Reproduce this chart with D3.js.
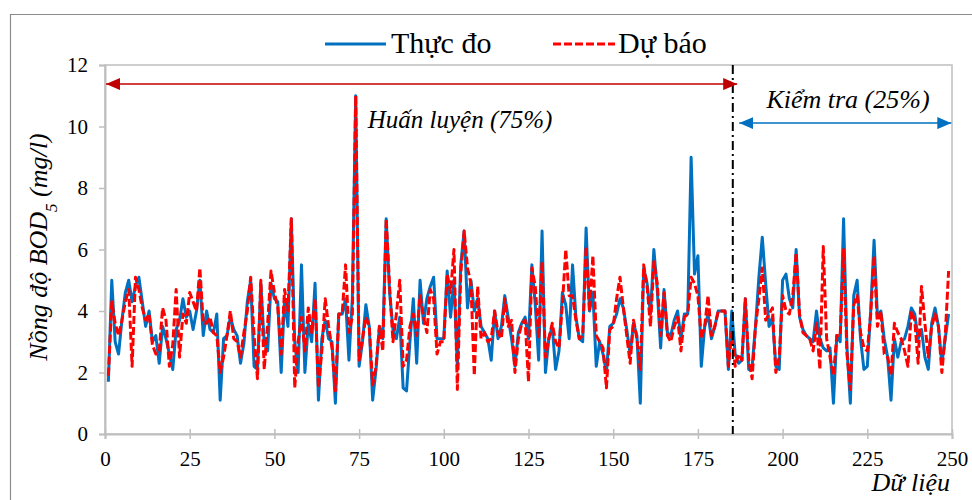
<!DOCTYPE html>
<meta charset="utf-8">
<script src="https://cdn.jsdelivr.net/npm/d3@7"></script>
<style>
  body { margin: 0; background: #fff; }
</style>
<div id="chart"></div>
<script>

// measured values (Thực đo) and model output (Dự báo), sample 1..249
var thucDo = [1.7,5.0,3.0,2.6,3.7,4.6,5.0,4.3,4.8,5.1,4.3,3.5,4.0,3.0,3.2,2.3,3.5,3.1,2.6,2.1,
  3.4,3.7,4.4,3.8,4.0,3.4,4.0,5.0,3.2,4.0,3.4,3.3,3.9,1.1,3.1,3.2,3.8,3.4,3.2,2.3,
  2.95,4.3,5.0,2.2,2.1,4.9,2.95,2.7,4.9,4.4,4.3,2.0,4.4,3.5,7.0,3.0,2.0,5.5,2.0,3.6,
  3.0,4.9,1.1,3.1,3.7,3.1,3.0,1.0,3.9,3.9,4.4,2.4,4.4,11.0,2.2,3.0,4.2,3.5,1.1,2.1,
  3.5,3.1,7.0,4.6,3.4,3.1,3.8,1.5,1.4,3.0,4.4,2.3,5.0,3.6,4.4,4.8,5.1,3.1,3.1,3.1,
  5.3,3.8,5.0,2.2,5.5,6.6,4.1,5.0,4.0,4.4,3.5,3.3,3.1,2.4,4.0,3.1,3.5,4.5,3.8,3.1,
  2.2,3.3,3.6,3.8,3.1,5.5,4.2,2.4,6.6,2.0,3.1,3.5,2.1,2.7,4.6,4.2,3.1,5.5,3.8,3.1,
  3.0,6.7,4.0,4.6,2.2,3.0,2.6,2.0,3.5,3.6,3.9,4.4,4.1,3.4,2.6,3.6,3.2,1.0,5.4,4.9,
  3.9,6.0,4.7,2.8,4.7,3.3,3.2,3.7,4.0,3.1,3.9,3.9,9.0,5.2,5.8,2.2,3.5,3.9,3.1,3.5,
  4.0,4.0,4.0,2.1,4.0,2.6,2.3,2.4,4.4,2.1,2.2,3.5,5.1,6.4,4.9,3.5,3.8,2.2,2.1,5.0,
  5.2,4.4,4.1,6.0,3.8,3.4,3.2,3.1,3.0,4.0,3.1,2.8,2.7,2.8,1.0,3.2,3.0,7.0,2.8,1.0,
  4.5,5.0,3.1,2.1,2.2,4.0,6.3,3.8,4.0,3.1,2.5,1.1,3.1,2.5,3.0,3.1,3.5,4.1,3.9,3.1,
  3.4,2.5,2.1,3.6,4.1,3.5,2.3,3.1,3.9];

var duBao = [1.9,4.3,3.6,3.2,3.7,4.3,4.7,2.2,5.1,4.7,4.1,3.7,3.9,2.9,2.6,2.7,4.1,3.7,2.2,2.9,
  4.7,2.5,3.9,3.6,4.6,4.3,4.0,5.4,3.6,3.6,3.8,3.3,3.2,2.0,2.5,3.2,4.0,3.1,3.0,2.5,
  3.3,4.0,5.1,3.2,1.8,5.0,2.1,3.6,5.3,4.6,4.1,2.6,4.7,4.0,7.0,1.5,3.0,3.8,2.7,4.1,
  3.3,4.4,1.5,2.7,4.4,3.5,2.8,1.4,3.9,3.9,5.5,3.3,3.8,11.0,2.4,3.1,3.8,3.5,1.6,2.2,
  3.5,2.7,7.0,4.8,3.0,3.9,5.0,2.2,2.4,3.5,3.9,3.2,4.5,3.8,3.3,4.7,4.4,2.6,3.0,3.0,
  5.2,4.6,6.0,1.45,5.2,6.6,5.4,4.9,1.9,4.8,3.1,3.3,3.0,3.1,4.0,3.3,3.1,4.4,3.5,3.7,
  2.0,3.1,3.6,3.7,1.7,5.4,4.8,3.1,5.6,2.5,3.1,3.6,3.0,2.8,4.2,6.0,4.5,4.5,3.7,3.1,
  3.2,6.1,4.0,5.8,3.2,3.0,2.8,1.5,3.4,3.5,4.4,5.1,4.1,3.2,2.3,3.7,3.1,2.1,5.5,4.8,
  3.5,5.6,4.9,3.2,4.6,3.2,3.0,3.5,3.8,2.7,3.8,3.9,5.1,4.9,4.5,3.1,3.5,4.5,3.2,3.5,
  4.0,4.0,4.0,2.2,3.3,2.2,2.6,2.4,4.4,2.4,1.8,3.5,4.4,5.4,3.7,3.9,4.1,2.0,2.5,4.5,
  4.0,3.9,4.5,5.9,3.9,3.3,3.2,3.1,2.7,3.6,2.1,6.1,3.1,2.5,1.9,3.2,3.2,6.0,2.6,1.45,
  4.2,4.5,3.3,2.8,2.7,3.9,5.8,3.5,4.0,2.6,2.5,1.9,3.6,3.3,3.1,2.7,2.2,4.0,3.7,2.3,
  4.8,3.6,2.5,3.5,3.9,3.5,2.0,3.2,5.3];

var xTicks = [0, 25, 50, 75, 100, 125, 150, 175, 200, 225, 250];
var yTicks = [0, 2, 4, 6, 8, 10, 12];
var seriesNames = ["Thực đo", "Dự báo"];
var splitAt = 185.3;   // end of training part (75%)

var serif = "'Liberation Serif'";

var margin = {top: 65, right: 20, bottom: 66, left: 105},
    width = 952 - margin.left,
    height = 434 - margin.top;

var blue = "#0070c0", red = "#ff0000", gray = "#bfbfbf";

var svg = d3.select("#chart")
  .append("svg")
    .attr("width", 972)
    .attr("height", 500);

// outer chart frame
svg.append("path")
  .attr("d", "M10.5,500V14.5H972")
  .attr("fill", "none")
  .attr("stroke", "#8c8c8c")
  .attr("stroke-width", 1.2);

var g = svg.append("g")
  .attr("transform", "translate(" + margin.left + "," + margin.top + ")");

var x = d3.scaleLinear().domain([0, 250]).range([0, width]);
var y = d3.scaleLinear().domain([0, 12]).range([height, 0]);

// plot area box
g.append("rect")
  .attr("width", width)
  .attr("height", height)
  .attr("fill", "none")
  .attr("stroke", gray)
  .attr("stroke-width", 1.5);

// Y axis
var yAxis = g.append("g")
  .call(d3.axisLeft(y).tickValues(yTicks).tickSize(6).tickPadding(11));
yAxis.select(".domain").attr("stroke", gray).attr("stroke-width", 2);
yAxis.selectAll(".tick line").attr("stroke", gray).attr("stroke-width", 1.5);
yAxis.selectAll(".tick text").attr("fill", "#000")
  .style("font-family", serif).style("font-size", "21px");

// X axis (ticks cross the axis)
var xAxis = g.append("g")
  .attr("transform", "translate(0," + height + ")")
  .call(d3.axisBottom(x).tickValues(xTicks).tickSize(5).tickPadding(12));
xAxis.select(".domain").attr("stroke", gray).attr("stroke-width", 2);
xAxis.selectAll(".tick line").attr("y1", -5).attr("stroke", gray).attr("stroke-width", 1.5);
xAxis.selectAll(".tick text").attr("fill", "#000")
  .style("font-family", serif).style("font-size", "21px");

// lines
var line = d3.line()
  .x(function(d, i) { return x(i + 1); })
  .y(function(d) { return y(d); });

g.append("path")
  .datum(thucDo)
  .attr("fill", "none")
  .attr("stroke", blue)
  .attr("stroke-width", 3)
  .attr("stroke-linejoin", "round")
  .attr("d", line);

g.append("path")
  .datum(duBao)
  .attr("fill", "none")
  .attr("stroke", red)
  .attr("stroke-width", 3)
  .attr("stroke-dasharray", "8,3")
  .attr("stroke-linejoin", "round")
  .attr("d", line);

// split line (dash-dot)
g.append("line")
  .attr("x1", x(splitAt)).attr("x2", x(splitAt))
  .attr("y1", 0).attr("y2", height)
  .attr("stroke", "#000")
  .attr("stroke-width", 2)
  .attr("stroke-dasharray", "9,4,2,4");

// arrow markers
var defs = svg.append("defs");
[["arrRed", "#c00000"], ["arrBlue", blue]].forEach(function(m) {
  defs.append("marker")
    .attr("id", m[0])
    .attr("markerUnits", "userSpaceOnUse")
    .attr("markerWidth", 14).attr("markerHeight", 12)
    .attr("refX", 14).attr("refY", 6)
    .attr("orient", "auto-start-reverse")
    .append("path")
      .attr("d", "M0,0L14,6L0,12Z")
      .attr("fill", m[1]);
});

// training arrow + label
g.append("line")
  .attr("x1", x(0.3)).attr("x2", x(186.6))
  .attr("y1", y(11.38)).attr("y2", y(11.38))
  .attr("stroke", "#c00000").attr("stroke-width", 1.5)
  .attr("marker-start", "url(#arrRed)")
  .attr("marker-end", "url(#arrRed)");

g.append("text")
  .attr("x", x(104.8)).attr("y", y(9.95))
  .attr("text-anchor", "middle")
  .style("font-family", serif).style("font-size", "25px").style("font-style", "italic")
  .text("Huấn luyện (75%)");

// testing arrow + label
g.append("line")
  .attr("x1", x(187.2)).attr("x2", x(249.8))
  .attr("y1", y(10.11)).attr("y2", y(10.11))
  .attr("stroke", blue).attr("stroke-width", 1.5)
  .attr("marker-start", "url(#arrBlue)")
  .attr("marker-end", "url(#arrBlue)");

g.append("text")
  .attr("x", x(219.3)).attr("y", y(10.6))
  .attr("text-anchor", "middle")
  .style("font-family", serif).style("font-size", "26px").style("font-style", "italic")
  .text("Kiểm tra (25%)");

// axis titles
var yt = svg.append("text")
  .attr("transform", "translate(47,247) rotate(-90)")
  .attr("text-anchor", "middle")
  .style("font-family", serif).style("font-size", "26px").style("font-style", "italic");
yt.append("tspan").text("Nồng độ BOD");
yt.append("tspan").attr("baseline-shift", "sub").style("font-size", "17px").text("5");
yt.append("tspan").text(" (mg/l)");

svg.append("text")
  .attr("x", 950).attr("y", 491)
  .attr("text-anchor", "end")
  .style("font-family", serif).style("font-size", "26px").style("font-style", "italic")
  .text("Dữ liệu");

// legend
var legend = svg.append("g");
legend.append("line")
  .attr("x1", 325).attr("x2", 386).attr("y1", 44).attr("y2", 44)
  .attr("stroke", blue).attr("stroke-width", 3);
legend.append("text")
  .attr("x", 391).attr("y", 53)
  .style("font-family", serif).style("font-size", "30px")
  .text(seriesNames[0]);
legend.append("line")
  .attr("x1", 553).attr("x2", 615).attr("y1", 44).attr("y2", 44)
  .attr("stroke", red).attr("stroke-width", 3)
  .attr("stroke-dasharray", "8,3");
legend.append("text")
  .attr("x", 618).attr("y", 53)
  .style("font-family", serif).style("font-size", "30px")
  .text(seriesNames[1]);

</script>
